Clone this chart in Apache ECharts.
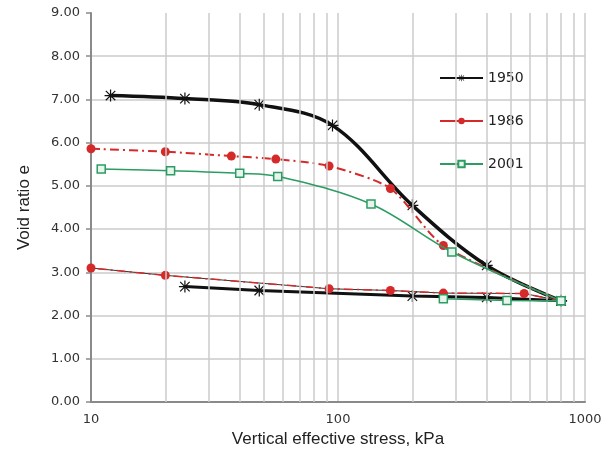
<!DOCTYPE html>
<html>
<head>
<meta charset="utf-8">
<script src="https://cdn.jsdelivr.net/npm/echarts@6/dist/echarts.min.js"></script>
<style>
  html, body { margin: 0; padding: 0; background: #ffffff; }
  #chart { width: 610px; height: 453px; }
</style>
</head>
<body>
<div id="chart"></div>
<script>
// Loading and unloading branches (stress in kPa, void ratio e)
const load1950X = [12, 24, 48, 95, 200, 400, 800];
const load1950Y = [7.09, 7.02, 6.88, 6.40, 4.55, 3.16, 2.34];
const unload1950X = [800, 400, 200, 48, 24];
const unload1950Y = [2.34, 2.42, 2.45, 2.58, 2.67];

const load1986X = [10, 20, 37, 56, 92, 163, 267, 800];
const load1986Y = [5.86, 5.79, 5.69, 5.62, 5.46, 4.94, 3.62, 2.34];
const unload1986X = [800, 567, 267, 163, 92, 20, 10];
const unload1986Y = [2.34, 2.51, 2.52, 2.58, 2.62, 2.93, 3.10];

const load2001X = [11, 21, 40, 57, 136, 289, 800];
const load2001Y = [5.39, 5.35, 5.29, 5.22, 4.58, 3.47, 2.34];
const unload2001X = [800, 483, 267];
const unload2001Y = [2.34, 2.35, 2.39];

// minor vertical grid lines of the log axis
const minorGridX = [20, 30, 40, 50, 60, 70, 80, 90, 200, 300, 400, 500, 600, 700, 800, 900];

const seriesNames = ['1950', '1986', '2001'];

const zip = (xs, ys) => xs.map((x, i) => [x, ys[i]]);

// asterisk marker like Excel's star
const starSymbol = 'path://M9 0H11V20H9Z M0 9H20V11H0Z M1.4 2.8L2.8 1.4L18.6 17.2L17.2 18.6Z M17.2 1.4L18.6 2.8L2.8 18.6L1.4 17.2Z';

const black = '#111111';
const red = '#d42a2a';
const green = '#2c9c62';
const gridGrey = '#cbcbcb';

const chart = echarts.init(document.getElementById('chart'), null, { renderer: 'canvas' });

chart.setOption({
    animation: false,
    backgroundColor: '#ffffff',
    grid: {
        left: 91,
        right: 25,
        top: 13,
        bottom: 49
    },
    legend: {
        data: seriesNames,
        orient: 'vertical',
        left: 434,
        top: 66,
        itemWidth: 43,
        itemHeight: 8,
        itemGap: 29,
        textStyle: {
            fontFamily: 'DejaVu Sans',
            fontSize: 14,
            color: '#222222'
        },
        lineStyle: { type: 'solid', width: 2 }
    },
    xAxis: {
        type: 'log',
        logBase: 10,
        min: 10,
        max: 1000,
        name: 'Vertical effective stress, kPa',
        nameLocation: 'middle',
        nameGap: 29,
        nameTextStyle: {
            fontFamily: 'Liberation Sans',
            fontSize: 17,
            color: '#222222'
        },
        axisLine: { lineStyle: { color: '#8a8a8a', width: 2 } },
        axisTick: { show: false },
        axisLabel: {
            fontFamily: 'DejaVu Sans',
            fontSize: 13,
            color: '#333333',
            margin: 11,
            formatter: v => String(v)
        },
        splitLine: { show: true, lineStyle: { color: gridGrey, width: 1.5 } }
    },
    yAxis: {
        type: 'value',
        min: 0,
        max: 9,
        interval: 1,
        name: 'Void ratio e',
        nameLocation: 'middle',
        nameGap: 58,
        nameTextStyle: {
            fontFamily: 'Liberation Sans',
            fontSize: 17,
            color: '#222222'
        },
        axisLine: { show: true, lineStyle: { color: '#8a8a8a', width: 2 } },
        axisTick: { show: true, length: 5, lineStyle: { color: '#8a8a8a', width: 1.5 } },
        axisLabel: {
            fontFamily: 'DejaVu Sans',
            fontSize: 13,
            color: '#333333',
            margin: 11,
            formatter: v => v.toFixed(2)
        },
        splitLine: {
            show: true,
            showMaxLine: false,
            lineStyle: { color: gridGrey, width: 1.5 }
        }
    },
    series: [
        {
            name: 'minor grid',
            type: 'line',
            data: [],
            silent: true,
            z: 1,
            markLine: {
                silent: true,
                symbol: 'none',
                label: { show: false },
                lineStyle: { color: gridGrey, width: 1.5, type: 'solid' },
                data: minorGridX.map(v => ({ xAxis: v }))
            }
        },
        {
            name: '1950',
            type: 'line',
            data: zip(load1950X, load1950Y),
            smooth: 0.35,
            symbol: starSymbol,
            symbolSize: 12,
            lineStyle: { color: black, width: 3.5 },
            itemStyle: { color: black },
            z: 3
        },
        {
            name: '1950 unloading',
            type: 'line',
            data: zip(unload1950X, unload1950Y),
            symbol: starSymbol,
            symbolSize: 12,
            lineStyle: { color: black, width: 3 },
            itemStyle: { color: black },
            z: 3
        },
        {
            name: '1986 trend',
            type: 'line',
            data: zip(unload1986X, unload1986Y),
            showSymbol: false,
            lineStyle: { color: '#333333', width: 1 },
            z: 4
        },
        {
            name: '1986',
            type: 'line',
            data: zip(load1986X, load1986Y),
            smooth: 0.25,
            symbol: 'circle',
            symbolSize: 9,
            lineStyle: { color: red, width: 2, type: [9, 4, 2, 4] },
            itemStyle: { color: red },
            z: 4
        },
        {
            name: '1986 unloading',
            type: 'line',
            data: zip(unload1986X, unload1986Y),
            symbol: 'circle',
            symbolSize: 9,
            lineStyle: { color: red, width: 1.5, type: [9, 4, 2, 4] },
            itemStyle: { color: red },
            z: 4
        },
        {
            name: '2001',
            type: 'line',
            data: zip(load2001X, load2001Y),
            smooth: 0.35,
            symbol: 'rect',
            symbolSize: 8,
            lineStyle: { color: green, width: 1.6 },
            itemStyle: { color: '#e8f5ee', borderColor: green, borderWidth: 1.5 },
            z: 5
        },
        {
            name: '2001 unloading',
            type: 'line',
            data: zip(unload2001X, unload2001Y),
            symbol: 'rect',
            symbolSize: 8,
            lineStyle: { color: green, width: 1.6 },
            itemStyle: { color: '#e8f5ee', borderColor: green, borderWidth: 1.5 },
            z: 5
        }
    ]
});
</script>
</body>
</html>
